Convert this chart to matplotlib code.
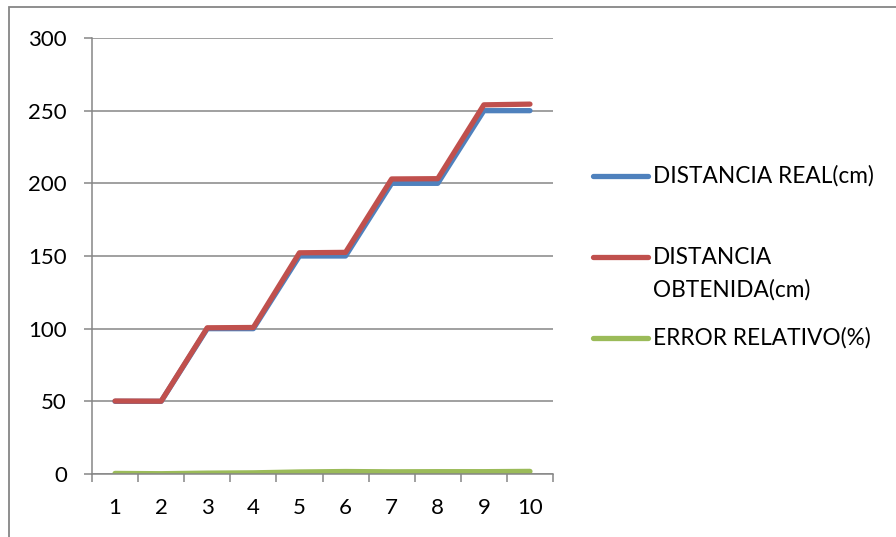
import matplotlib.pyplot as plt
from matplotlib.lines import Line2D
from matplotlib.patches import Rectangle
import numpy as np

plt.rcParams['font.family'] = ['Lato', 'DejaVu Sans']

# datos de la medicion
muestras = [1, 2, 3, 4, 5, 6, 7, 8, 9, 10]
distancia_real = [50, 50, 100, 100, 150, 150, 200, 200, 250, 250]
distancia_obtenida = [50.2, 50.1, 100.6, 100.8, 152.2, 152.5, 203.0, 203.2, 254.0, 254.5]
error_relativo = [0.4, 0.2, 0.6, 0.8, 1.4, 1.7, 1.5, 1.6, 1.6, 1.8]

etiquetas = [["DISTANCIA REAL(cm)"], ["DISTANCIA", "OBTENIDA(cm)"], ["ERROR RELATIVO(%)"]]
colores = ['#4F81BD', '#C0504D', '#9BBB59']
gris = '#868686'

W, H = 896, 537
fig = plt.figure(figsize=(W/100, H/100), dpi=100)
ax = fig.add_axes([92/W, 1-474/H, (553-92)/W, (474-38)/H])

series = [distancia_real, distancia_obtenida, error_relativo]
for s, c in zip(series, colores):
    ax.plot(muestras, s, color=c, lw=3.8, solid_capstyle='round', solid_joinstyle='round')

ax.set_xlim(0.5, 10.5)
ax.set_ylim(0, 300)
ax.set_yticks(np.arange(0, 301, 50))
ax.set_xticks(muestras)
ax.set_xticks(np.arange(0.5, 10.6, 1), minor=True)
ax.yaxis.grid(True, color=gris, lw=1.1)
ax.set_axisbelow(True)

for lado in ['top', 'right']:
    ax.spines[lado].set_visible(False)
for lado in ['left', 'bottom']:
    ax.spines[lado].set_color(gris)
    ax.spines[lado].set_linewidth(1.1)

fs = 16
ax.tick_params(axis='y', length=6, width=1.1, color=gris, pad=12, labelsize=fs)
ax.tick_params(axis='x', which='major', length=0, pad=17, labelsize=fs)
ax.tick_params(axis='x', which='minor', length=6, width=1.1, color=gris)

# leyenda a la derecha
ys = [176, 257, 338]
for y, c, lineas in zip(ys, colores, etiquetas):
    fig.add_artist(Line2D([593/W, 648/W], [1-y/H, 1-y/H], color=c, lw=3.8,
                          solid_capstyle='round'))
    for i, txt in enumerate(lineas):
        fig.text(653/W, 1-(y+33*i)/H, txt, fontsize=16.3, va='center')

# marco del grafico
fig.add_artist(Rectangle((9/W, -0.1), 1.2, 1-7/H+0.1, fill=False,
                         edgecolor=gris, lw=1.3, transform=fig.transFigure))

fig.savefig('out.png', dpi=100)
